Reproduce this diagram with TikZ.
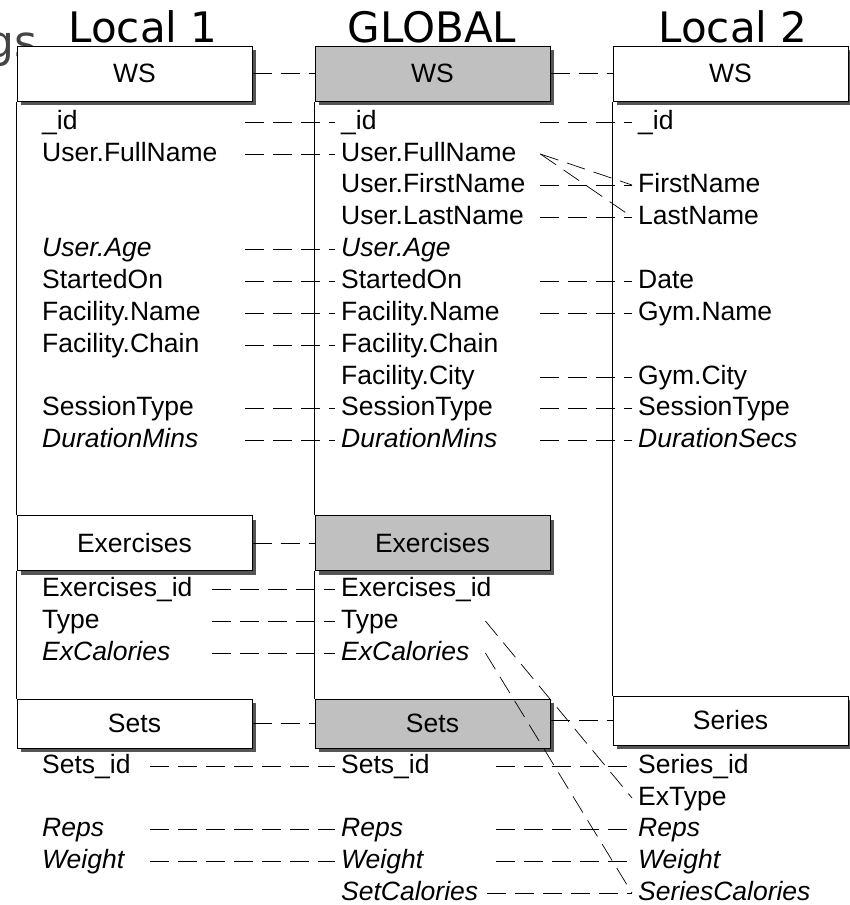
\documentclass[tikz,border=0pt]{standalone}
\usepackage{fontspec}
\setmainfont{Liberation Sans}
\newfontfamily\titlefont{DejaVu Sans}
\usepackage{tikz}
\usetikzlibrary{positioning,calc,shadows}
\definecolor{schemaGlobal}{HTML}{C0C0C0}
\definecolor{schemaShadow}{HTML}{555555}
\definecolor{schemaGhost}{HTML}{444444}

\begin{document}
\begin{tikzpicture}[x=1pt,y=-1pt]
    \tikzset{
      stitle/.style={font=\titlefont\fontsize{42}{48}\selectfont, anchor=base, inner sep=0pt},
      sbox/.style={draw=black, line width=1pt, fill=white, minimum width=235pt, minimum height=55pt,
        inner sep=0pt, font=\fontsize{26.5}{30}\selectfont,
        drop shadow={shadow xshift=4pt, shadow yshift=-4pt, fill=schemaShadow, opacity=1}},
      sglobal/.style={sbox, fill=schemaGlobal},
      sfield/.style={font=\fontsize{26.5}{30}\selectfont, anchor=west, inner xsep=6pt, inner ysep=0pt,
        text height=19pt, text depth=5pt, align=left, text width=#1},
      slink/.style={draw=black, line width=0.7pt, dash pattern=on 19pt off 9pt},
      sedge/.style={draw=black, line width=1pt}
    }
    \useasboundingbox (0,0) rectangle (849,905);

    % Titles
    \node[font=\titlefont\fontsize{44}{50}\selectfont, text=schemaGhost, anchor=base east, inner sep=0pt] (ghost) at (38,57) {gs};
    \node[stitle] (tl1) at (143,42) {Local 1};
    \node[stitle] (tg) at (432,42) {GLOBAL};
    \node[stitle] (tl2) at (733,42) {Local 2};

    % Entity boxes
    \node[sbox] (l1ws) at (134.5,73.5) {WS};
    \node[sglobal] (gws) at (432.5,73.5) {WS};
    \node[sbox] (l2ws) at (730.5,73.5) {WS};
    \node[sbox] (l1ex) at (134.5,543) {Exercises};
    \node[sglobal] (gex) at (432.5,543) {Exercises};
    \node[sbox, minimum height=49pt] (l1sets) at (134.5,723.5) {Sets};
    \node[sglobal, minimum height=49pt] (gsets) at (432.5,723.5) {Sets};
    \node[sbox, minimum height=49pt] (l2series) at (730.5,720.5) {Series};

    % Column borders
    \draw[sedge] (l1ws.south west) -- (l1ex.north west);
    \draw[sedge] (l1ex.south west) -- (l1sets.north west);
    \draw[sedge] (gws.south west) -- (gex.north west);
    \draw[sedge] (gex.south west) -- (gsets.north west);
    \draw[sedge] (l2ws.south west) -- (l2series.north west);

    % Local 1: WS
    \node[sfield=197pt] (l1id) at (36,122) {\_id};
    \node[sfield=197pt] (l1fullname) at (36,154) {User.FullName};
    \node[sfield=197pt] (l1age) at (36,249) {\textit{User.Age}};
    \node[sfield=197pt] (l1started) at (36,281) {StartedOn};
    \node[sfield=197pt] (l1facname) at (36,313) {Facility.Name};
    \node[sfield=197pt] (l1facchain) at (36,345) {Facility.Chain};
    \node[sfield=197pt] (l1session) at (36,408) {SessionType};
    \node[sfield=197pt] (l1duration) at (36,440) {\textit{DurationMins}};
    % Local 1: Exercises
    \node[sfield=164pt] (l1exid) at (36,589) {Exercises\_id};
    \node[sfield=164pt] (l1type) at (36,621) {Type};
    \node[sfield=164pt] (l1excal) at (36,653) {\textit{ExCalories}};
    % Local 1: Sets
    \node[sfield=102pt] (l1setsid) at (36,766) {Sets\_id};
    \node[sfield=102pt] (l1reps) at (36,829) {\textit{Reps}};
    \node[sfield=102pt] (l1weight) at (36,861) {\textit{Weight}};

    % Global: WS
    \node[sfield=193pt] (gid) at (335,122) {\_id};
    \node[sfield=193pt] (gfullname) at (335,154) {User.FullName};
    \node[sfield=193pt] (gfirstname) at (335,185) {User.FirstName};
    \node[sfield=193pt] (glastname) at (335,217) {User.LastName};
    \node[sfield=193pt] (gage) at (335,249) {\textit{User.Age}};
    \node[sfield=193pt] (gstarted) at (335,281) {StartedOn};
    \node[sfield=193pt] (gfacname) at (335,313) {Facility.Name};
    \node[sfield=193pt] (gfacchain) at (335,345) {Facility.Chain};
    \node[sfield=193pt] (gfaccity) at (335,377) {Facility.City};
    \node[sfield=193pt] (gsession) at (335,408) {SessionType};
    \node[sfield=193pt] (gduration) at (335,440) {\textit{DurationMins}};
    % Global: Exercises
    \node[sfield=138pt] (gexid) at (335,589) {Exercises\_id};
    \node[sfield=138pt] (gtype) at (335,621) {Type};
    \node[sfield=138pt] (gexcal) at (335,653) {\textit{ExCalories}};
    % Global: Sets
    \node[sfield=149pt] (gsetsid) at (335,766) {Sets\_id};
    \node[sfield=149pt] (greps) at (335,829) {\textit{Reps}};
    \node[sfield=149pt] (gweight) at (335,861) {\textit{Weight}};
    \node[sfield=140pt] (gsetcal) at (335,893) {\textit{SetCalories}};

    % Local 2: WS
    \node[sfield=190pt] (l2id) at (632,122) {\_id};
    \node[sfield=190pt] (l2firstname) at (632,185) {FirstName};
    \node[sfield=190pt] (l2lastname) at (632,217) {LastName};
    \node[sfield=190pt] (l2date) at (632,281) {Date};
    \node[sfield=190pt] (l2gymname) at (632,313) {Gym.Name};
    \node[sfield=190pt] (l2gymcity) at (632,377) {Gym.City};
    \node[sfield=190pt] (l2session) at (632,408) {SessionType};
    \node[sfield=190pt] (l2duration) at (632,440) {\textit{DurationSecs}};
    % Local 2: Series
    \node[sfield=190pt] (l2seriesid) at (632,766) {Series\_id};
    \node[sfield=190pt] (l2extype) at (632,798) {ExType};
    \node[sfield=190pt] (l2reps) at (632,829) {\textit{Reps}};
    \node[sfield=190pt] (l2weight) at (632,861) {\textit{Weight}};
    \node[sfield=190pt] (l2seriescal) at (632,893) {\textit{SeriesCalories}};

    % Mappings Local 1 -- Global
    \draw[slink] (l1ws) -- (gws);
    \draw[slink] (l1ex) -- (gex);
    \draw[slink] (l1sets) -- (gsets);
    \foreach \a/\b in {l1id/gid, l1fullname/gfullname, l1age/gage, l1started/gstarted,
      l1facname/gfacname, l1facchain/gfacchain, l1session/gsession, l1duration/gduration,
      l1exid/gexid, l1type/gtype, l1excal/gexcal, l1setsid/gsetsid, l1reps/greps, l1weight/gweight} {
      \draw[slink] (\a.east) -- (\b.west);
    }

    % Mappings Global -- Local 2
    \draw[slink] (gws) -- (l2ws);
    \draw[slink] (gsets.east |- l2series) -- (l2series.west);
    \foreach \a/\b in {gid/l2id, gfullname/l2firstname, gfullname/l2lastname, gfirstname/l2firstname,
      glastname/l2lastname, gstarted/l2date, gfacname/l2gymname, gfaccity/l2gymcity,
      gsession/l2session, gduration/l2duration, gtype/l2extype, gexcal/l2seriescal,
      gsetsid/l2seriesid, greps/l2reps, gweight/l2weight, gsetcal/l2seriescal} {
      \draw[slink] (\a.east) -- (\b.west);
    }
  \end{tikzpicture}
\end{document}
